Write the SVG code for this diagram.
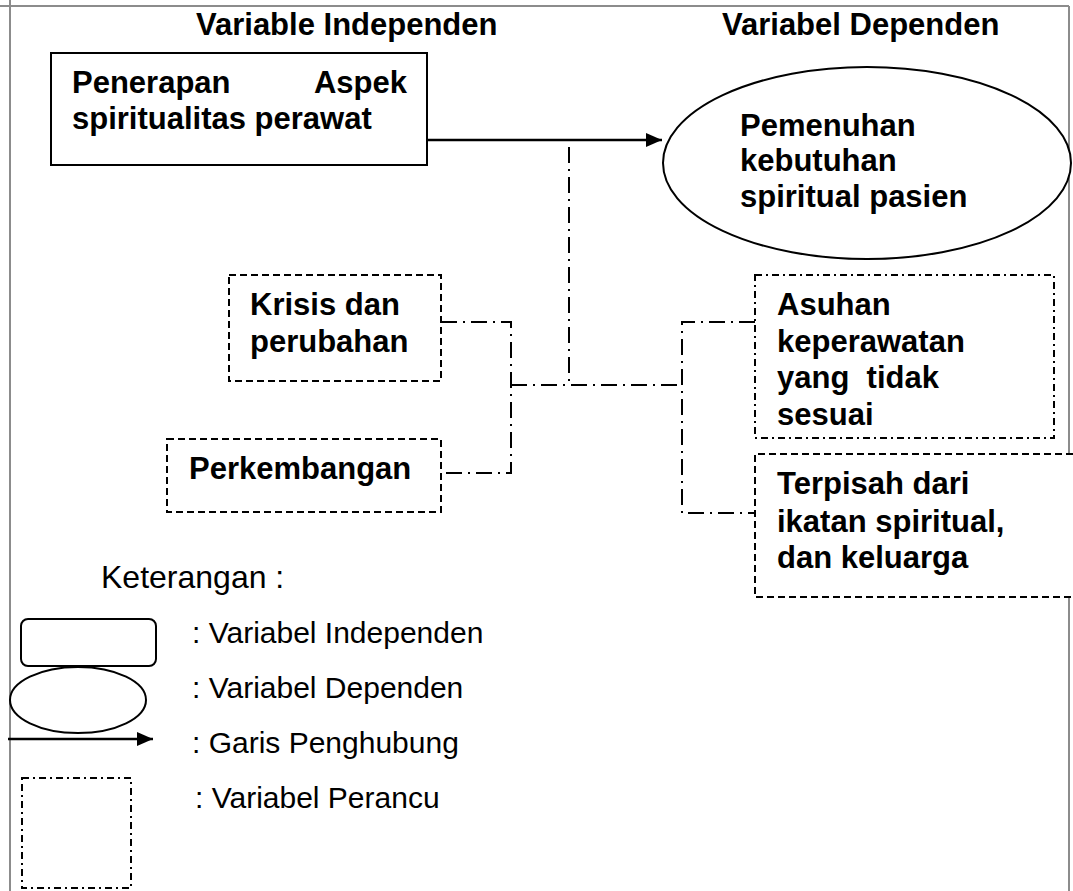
<svg xmlns="http://www.w3.org/2000/svg" width="1073" height="891" viewBox="0 0 1073 891">
<style>
.bg{fill:#fff}
.page{stroke:#8c8c8c;stroke-width:2;fill:none}
.b{font-family:"Liberation Sans",Arial,sans-serif;font-weight:bold;font-size:31px;fill:#000}
.r{font-family:"Liberation Sans",Arial,sans-serif;font-size:30px;fill:#000}
.solid{fill:#fff;stroke:#000;stroke-width:2}
.dash{fill:#fff;stroke:#000;stroke-width:2;stroke-dasharray:7 4}
.dd{fill:#fff;stroke:#000;stroke-width:2;stroke-dasharray:7 4 2 4}
.conn{fill:none;stroke:#000;stroke-width:2;stroke-dasharray:16 6 2 6}
.arrow{fill:none;stroke:#000;stroke-width:2.5}
</style>
<defs>
<marker id="ah" markerWidth="16" markerHeight="14" refX="16" refY="7" orient="auto" markerUnits="userSpaceOnUse">
<path d="M0,0 L16,7 L0,14 Z" fill="#000"/>
</marker>
</defs>
<rect class="bg" x="0" y="0" width="1073" height="891"/>
<g id="page">
<line class="page" x1="0" y1="6" x2="1069" y2="6"/>
<line class="page" x1="10" y1="0" x2="10" y2="891"/>
<line class="page" x1="1069" y1="6" x2="1069" y2="453"/>
<line class="page" x1="1069" y1="598" x2="1069" y2="891"/>
</g>
<g id="headings">
<text class="b" x="196" y="35">Variable Independen</text>
<text class="b" x="722" y="35">Variabel Dependen</text>
</g>
<g id="connectors">
<line class="arrow" x1="427" y1="140" x2="662" y2="140" marker-end="url(#ah)"/>
<path class="conn" d="M569,147 V385"/>
<path class="conn" d="M441,322 H511 V473 H441"/>
<path class="conn" d="M511,385 H682"/>
<path class="conn" d="M755,322 H682 V513 H755"/>
</g>
<g id="node-penerapan">
<rect class="solid" x="51" y="53" width="376" height="112"/>
<text class="b" x="72" y="93">Penerapan</text>
<text class="b" x="407" y="93" text-anchor="end">Aspek</text>
<text class="b" x="72" y="129">spiritualitas perawat</text>
</g>
<g id="node-pemenuhan">
<ellipse class="solid" cx="867" cy="163" rx="204" ry="96"/>
<text class="b" x="740" y="136">Pemenuhan</text>
<text class="b" x="740" y="171">kebutuhan</text>
<text class="b" x="740" y="207">spiritual pasien</text>
</g>
<g id="node-krisis">
<rect class="dash" x="229" y="275" width="212" height="106"/>
<text class="b" x="250" y="315">Krisis dan</text>
<text class="b" x="250" y="352">perubahan</text>
</g>
<g id="node-perkembangan">
<rect class="dash" x="167" y="439" width="274" height="73"/>
<text class="b" x="189" y="479">Perkembangan</text>
</g>
<g id="node-asuhan">
<rect class="dd" x="755" y="275" width="299" height="163"/>
<text class="b" x="777" y="315">Asuhan</text>
<text class="b" x="777" y="352">keperawatan</text>
<text class="b" x="777" y="388" xml:space="preserve">yang  tidak</text>
<text class="b" x="777" y="425">sesuai</text>
</g>
<g id="node-terpisah">
<path class="dash" d="M1073,454 H755 V597 H1073"/>
<text class="b" x="777" y="494">Terpisah dari</text>
<text class="b" x="777" y="532">ikatan spiritual,</text>
<text class="b" x="777" y="568">dan keluarga</text>
</g>
<g id="legend">
<text class="r" x="101" y="588" style="font-size:32px">Keterangan :</text>
<rect class="solid" x="21" y="619" width="135" height="47" rx="7"/>
<ellipse class="solid" cx="78" cy="700" rx="68" ry="33"/>
<line class="arrow" x1="8" y1="739" x2="153" y2="739" marker-end="url(#ah)"/>
<rect class="dd" x="22" y="778" width="109" height="110"/>
<text class="r" x="192" y="643">: Variabel Independen</text>
<text class="r" x="192" y="698">: Variabel Dependen</text>
<text class="r" x="192" y="753">: Garis Penghubung</text>
<text class="r" x="195" y="808">: Variabel Perancu</text>
</g>
</svg>
